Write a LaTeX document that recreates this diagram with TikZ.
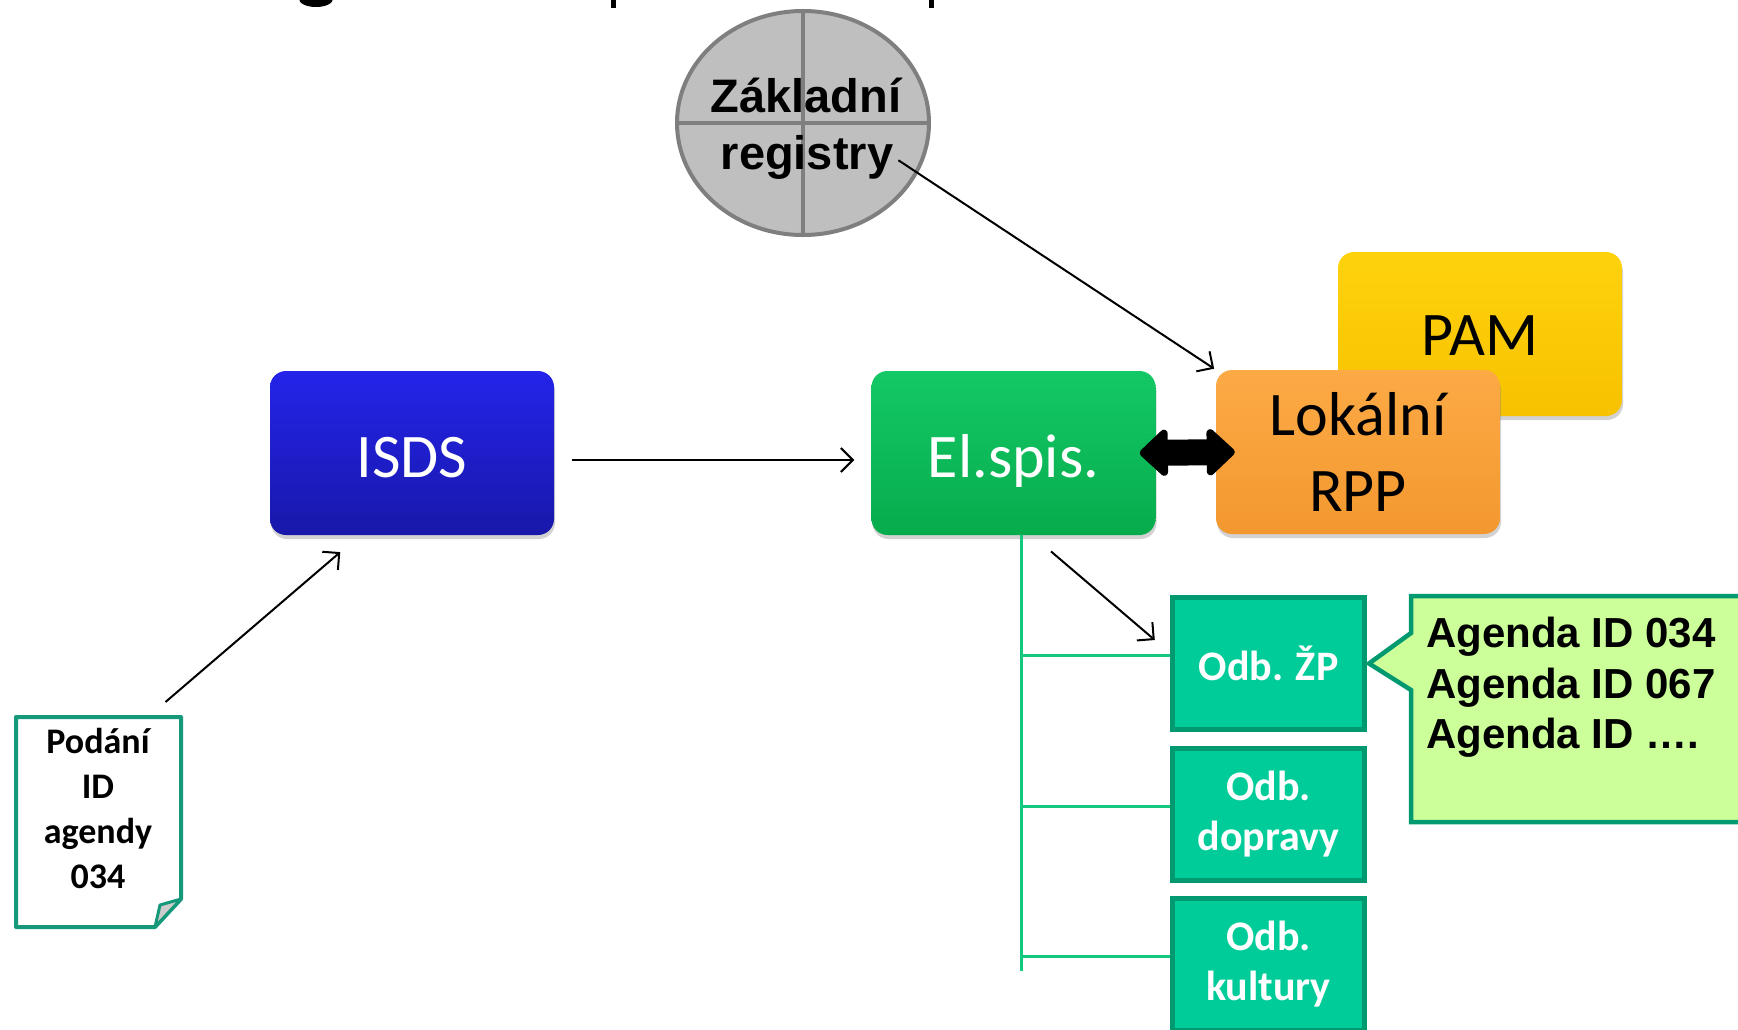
\documentclass[tikz,border=0pt]{standalone}
\usepackage{fontspec}
\setmainfont{Carlito}
\newfontfamily\arialf{Liberation Sans}
\usetikzlibrary{arrows.meta,shadows,shapes.geometric,calc}
\definecolor{zrfill}{HTML}{BFBFBF}
\definecolor{zrline}{HTML}{7F7F7F}
\definecolor{isdsT}{HTML}{2424EA}
\definecolor{isdsB}{HTML}{1818AA}
\definecolor{elT}{HTML}{14C866}
\definecolor{elB}{HTML}{06AC4C}
\definecolor{rppT}{HTML}{FCAA46}
\definecolor{rppB}{HTML}{F3982E}
\definecolor{pamT}{HTML}{FFD20E}
\definecolor{pamB}{HTML}{F7C200}
\definecolor{odbfill}{HTML}{00CC99}
\definecolor{odbline}{HTML}{009970}
\definecolor{callfill}{HTML}{CCFF99}
\definecolor{docline}{HTML}{15997A}
\definecolor{treeline}{HTML}{14C880}
\begin{document}
\begin{tikzpicture}[x=1pt,y=-1pt,
  rbox/.style={rectangle, rounded corners=16pt, inner sep=0pt, align=center,
    minimum width=284pt, minimum height=164pt,
    font=\fontsize{62pt}{76pt}\selectfont,
    drop shadow={opacity=0.35, shadow xshift=1pt, shadow yshift=-4pt}},
  odb/.style={rectangle, draw=odbline, fill=odbfill, line width=5pt, text=white,
    minimum width=192pt, minimum height=132pt, inner sep=0pt, align=center,
    font=\bfseries\fontsize{42pt}{50pt}\selectfont},
  zrtext/.style={font={\arialf\bfseries\fontsize{47pt}{56pt}\selectfont}, anchor=base, inner sep=0pt},
  agtext/.style={font={\arialf\bfseries\fontsize{42pt}{51pt}\selectfont}, anchor=base west, inner sep=0pt},
  arr/.style={line width=2pt, -{Straight Barb[length=12pt,width=24pt,line width=2pt]}},
  tree/.style={treeline, line width=3pt}
]
\clip (0,0) rectangle (1738,1029);
\fill[white] (0,0) rectangle (1738,1029);

% fragments of the cut-off title
\fill (316,-1) ellipse (17 and 8);
\fill (611,0) rectangle (616,8);
\fill (929,0) rectangle (934,8);

% Zakladni registry
\node[ellipse, draw=zrline, fill=zrfill, line width=4pt, minimum width=252pt,
  minimum height=224pt, inner sep=0pt] (zr) at (803,123) {};
\draw[zrline, line width=4pt] (zr.north) -- (zr.south) (zr.west) -- (zr.east);
\node[zrtext] (zr1) at (806,112) {Základní};
\node[zrtext] (zr2) at (807,169) {registry};

% main boxes
\node[rbox, top color=isdsT, bottom color=isdsB, text=white,
  text height=48pt, text depth=0pt] (isds) at (412,453) {ISDS};
\node[rbox, top color=elT, bottom color=elB, text=white,
  text height=48pt, text depth=0pt] (elspis) at (1013.5,453) {El.spis.};
\node[rbox, top color=pamT, bottom color=pamB, text=black,
  text height=42pt, text depth=0pt] (pam) at (1480,334) {PAM};
\node[rbox, top color=rppT, bottom color=rppB, text=black] (rpp) at (1358,452) {Lokální\\RPP};

% departments
\node[odb] (zp) at (1268.5,663.5) {Odb. ŽP};
\node[odb] (dop) at (1268.5,814) {Odb.\\dopravy};
\node[odb] (kul) at (1268.5,964.5) {Odb.\\kultury};

% tree lines
\coordinate (trunkend) at (1021,971);
\draw[tree] ([xshift=7.5pt]elspis.south) -- (trunkend);
\coordinate (zpb) at ([yshift=8pt]zp.west);
\coordinate (dopb) at ([yshift=8pt]dop.west);
\coordinate (kulb) at ([yshift=8pt]kul.west);
\draw[tree] (zpb -| trunkend) -- (zpb);
\draw[tree] (dopb -| trunkend) -- (dopb);
\draw[tree] (kulb -| trunkend) -- (kulb);

% callout
\draw[draw=odbline, fill=callfill, line width=4.5pt]
  (1411,596) -- (1411,633) -- ([xshift=2pt]zp.east) -- (1411,690) -- (1411,822)
  -- (1760,822) -- (1760,596) -- cycle;
\node[agtext] (ag1) at (1426,647) {Agenda ID 034};
\node[agtext] (ag2) at (1426,698) {Agenda ID 067};
\node[agtext] (ag3) at (1426,748) {Agenda ID ….};

% document
\node[minimum width=165pt, minimum height=210pt, inner sep=0pt, outer sep=0pt] (doc) at (98.5,822) {};
\draw[docline, fill=white, line width=4pt, line join=round]
  (doc.north west) -- (doc.north east) -- ([yshift=28pt]doc.south east)
  -- ([xshift=-26pt]doc.south east) -- (doc.south west) -- cycle;
\draw[docline, fill=black!20, line width=3pt, line join=round]
  ([xshift=-26pt]doc.south east) -- ([xshift=-21pt,yshift=22pt]doc.south east)
  -- ([yshift=28pt]doc.south east) -- cycle;
\node[align=center, inner sep=0pt, font=\bfseries\fontsize{36pt}{45pt}\selectfont]
  (doctxt) at (98,808) {Podání\\ID\\agendy\\034};

% connectors
\draw[arr, shorten <=18pt, shorten >=17pt] ([yshift=-7pt]isds.east) -- ([yshift=-7pt]elspis.west);
\draw[arr, shorten <=23pt, shorten >=26pt] ([xshift=132pt]doc.north west) -- ([xshift=-52pt]isds.south);
\draw[arr, shorten <=6pt, shorten >=2pt] (zr2.east) -- (rpp.north west);
\draw[arr, shorten <=25pt, shorten >=20pt] ([xshift=18.5pt]elspis.south) -- ([yshift=10.5pt]zp.west);
\draw[line width=26pt, {Triangle[length=30pt,width=54pt,round]}-{Triangle[length=30pt,width=54pt,round]}]
  ([xshift=-16pt]elspis.east) -- ([xshift=19pt]rpp.west);
\end{tikzpicture}
\end{document}
